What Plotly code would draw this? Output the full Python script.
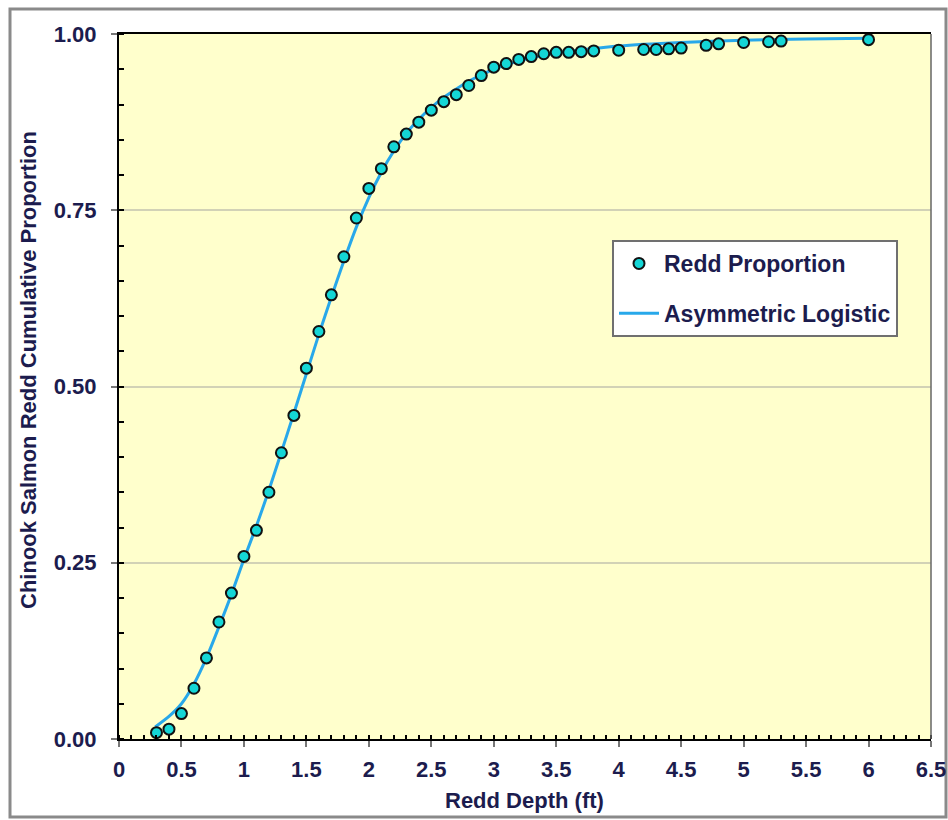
import plotly.graph_objects as go

# Observed redd cumulative proportions
depth_obs = [0.3, 0.4, 0.5, 0.6, 0.7, 0.8, 0.9, 1.0, 1.1, 1.2, 1.3, 1.4, 1.5, 1.6, 1.7, 1.8, 1.9,
             2.0, 2.1, 2.2, 2.3, 2.4, 2.5, 2.6, 2.7, 2.8, 2.9, 3.0, 3.1, 3.2, 3.3, 3.4, 3.5, 3.6,
             3.7, 3.8, 4.0, 4.2, 4.3, 4.4, 4.5, 4.7, 4.8, 5.0, 5.2, 5.3, 6.0]
prop_obs = [0.009, 0.014, 0.036, 0.072, 0.115, 0.166, 0.207, 0.259, 0.296, 0.350, 0.406, 0.459,
            0.526, 0.578, 0.630, 0.684, 0.739, 0.781, 0.809, 0.840, 0.858, 0.875, 0.892, 0.904,
            0.914, 0.927, 0.941, 0.953, 0.958, 0.964, 0.968, 0.972, 0.974, 0.974, 0.975, 0.976,
            0.977, 0.978, 0.978, 0.979, 0.980, 0.984, 0.986, 0.988, 0.989, 0.990, 0.992]

# Fitted asymmetric logistic curve
depth_fit = [0.29, 0.4, 0.5, 0.6, 0.7, 0.8, 0.9, 1.0, 1.1, 1.2, 1.3, 1.4, 1.5, 1.6, 1.7, 1.8,
             1.9, 2.0, 2.1, 2.2, 2.3, 2.4, 2.5, 2.6, 2.7, 2.8, 2.9, 3.0, 3.25, 3.5, 4.0, 4.5,
             5.0, 5.5, 6.0]
prop_fit = [0.017, 0.032, 0.050, 0.078, 0.115, 0.159, 0.205, 0.255, 0.302, 0.353, 0.407, 0.462,
            0.518, 0.574, 0.627, 0.678, 0.726, 0.768, 0.804, 0.834, 0.859, 0.879, 0.896, 0.910,
            0.922, 0.933, 0.942, 0.950, 0.964, 0.973, 0.983, 0.988, 0.991, 0.993, 0.994]

x_ticks = [0, 0.5, 1, 1.5, 2, 2.5, 3, 3.5, 4, 4.5, 5, 5.5, 6, 6.5]
x_tick_labels = ["0", "0.5", "1", "1.5", "2", "2.5", "3", "3.5", "4", "4.5", "5", "5.5", "6", "6.5"]
y_ticks = [0, 0.25, 0.5, 0.75, 1.0]
y_tick_labels = ["0.00", "0.25", "0.50", "0.75", "1.00"]

TXT = "#1c1c4e"
FONT = "Liberation Sans, Arial, sans-serif"
FS = 22

# plot area in page pixels: x 119..931, y 34..739
PW, PH = 812, 705

fig = go.Figure()
fig.add_trace(go.Scatter(
    x=depth_fit, y=prop_fit, mode="lines", name="Asymmetric Logistic",
    line=dict(color="#28a8ea", width=3, shape="spline", smoothing=0.6),
    legendgroup="b", legendrank=2,
))
fig.add_trace(go.Scatter(
    x=depth_obs, y=prop_obs, mode="markers", name="Redd Proportion",
    marker=dict(symbol="circle", size=11, color="#14d6d6", line=dict(color="#111111", width=2)),
    legendgroup="a", legendrank=1,
))

fig.update_layout(
    width=948, height=820,
    margin=dict(l=119, r=17, t=34, b=81, pad=0, autoexpand=False),
    paper_bgcolor="white",
    plot_bgcolor="#ffffcc",
    font=dict(family=FONT, color=TXT),
    showlegend=True,
    legend=dict(
        x=(612 - 119) / PW, y=(739 - 240) / PH, xanchor="left", yanchor="top",
        bgcolor="white", bordercolor="#707070", borderwidth=2,
        font=dict(size=23, family=FONT, color=TXT, weight="bold"),
        traceorder="grouped", tracegroupgap=17, itemwidth=40,
    ),
    xaxis=dict(
        range=[0, 6.5], tickmode="array", tickvals=x_ticks, ticktext=x_tick_labels,
        showgrid=False, zeroline=False, automargin=False,
        showline=True, linecolor="black", linewidth=2, mirror=True,
        ticks="outside", ticklen=6, tickwidth=2, tickcolor="#777777",
        ticklabelstandoff=4,
        tickfont=dict(size=FS, family=FONT, color=TXT, weight="bold"),
        minor=dict(ticks="inside", dtick=0.1, ticklen=4, tickwidth=1.5, tickcolor="black", showgrid=False),
    ),
    yaxis=dict(
        range=[0, 1.0], tickmode="array", tickvals=y_ticks, ticktext=y_tick_labels,
        showgrid=True, gridcolor="#d2d2b6", gridwidth=2,
        zeroline=False, automargin=False,
        showline=True, linecolor="black", linewidth=2,
        ticks="outside", ticklen=6, tickwidth=2, tickcolor="#777777",
        ticklabelstandoff=10,
        tickfont=dict(size=FS, family=FONT, color=TXT, weight="bold"),
        minor=dict(ticks="inside", dtick=0.05, ticklen=5, tickwidth=1.5, tickcolor="black", showgrid=False),
    ),
    shapes=[
        dict(type="rect", xref="paper", yref="paper",
             x0=(10 - 119) / PW, x1=(946 - 119) / PW,
             y0=(739 - 817) / PH, y1=(739 - 9) / PH,
             line=dict(color="#8a8a8a", width=3), fillcolor="rgba(0,0,0,0)", layer="below"),
        dict(type="line", xref="paper", yref="paper", x0=1, x1=1, y0=0, y1=1,
             line=dict(color="#666666", width=1.5)),
    ],
    annotations=[
        dict(text="Chinook Salmon Redd Cumulative Proportion", xref="paper", yref="paper",
             x=(28 - 119) / PW, y=(739 - 370) / PH, xanchor="center", yanchor="middle",
             textangle=-90, showarrow=False,
             font=dict(size=FS, family=FONT, color=TXT, weight="bold")),
        dict(text="Redd Depth (ft)", xref="paper", yref="paper",
             x=(524 - 119) / PW, y=(739 - 800) / PH, xanchor="center", yanchor="middle",
             showarrow=False,
             font=dict(size=FS, family=FONT, color=TXT, weight="bold")),
    ],
)

# remove the browser's default 8px body margin so the figure fills the window exactly
fig.write_html(
    "out.html",
    config={"displayModeBar": False},
    post_script="document.body.style.margin='0';document.body.style.overflow='hidden';",
)
